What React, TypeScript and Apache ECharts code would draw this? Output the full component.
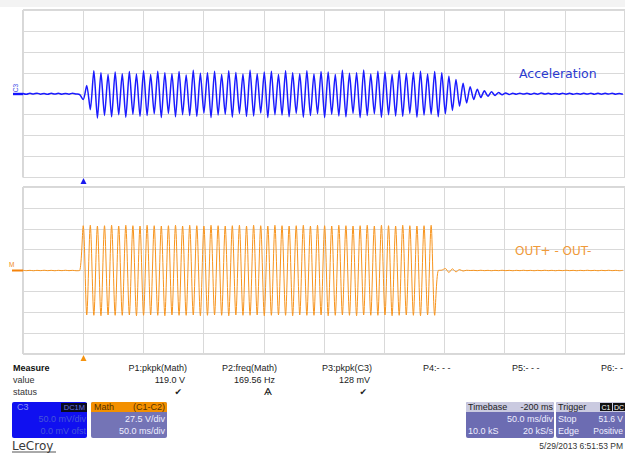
import React, { useEffect, useRef } from "react";
import * as echarts from "echarts";

// ---- data ----
// one sample every half period of the 169.56 Hz drive signal
const DRIVE_FREQ_HZ = 169.56;
const HALF_PERIOD_MS = 1000 / DRIVE_FREQ_HZ / 2;

// time axis (ms) : 10 divisions of 50 ms, trigger at 0
const TIME_MIN = -50;
const TIME_MAX = 450;
const TIME_DIV = 50;

// C3 acceleration channel (mV), 50 mV/div
const ACCEL_DIV = 50;
const accelPre = [0.8, -1.2, 1.0, -0.6, 1.4, -1.0, 0.6, -1.4, 1.2, -0.8, 1.0, -1.2, 0.8, -1.0, 1.4, -0.6, -2];
const accelBurst = [
  -14, 20, -38, 55, -58, 50, -52, 46, -55, 52, -50, 48, -56, 53, -49, 47, -54, 55, -52, 46,
  -48, 54, -57, 50, -47, 48, -55, 53, -50, 45, -52, 56, -54, 49, -46, 50, -57, 54, -51, 46,
  -49, 55, -56, 51, -47, 47, -54, 56, -53, 48, -46, 52, -57, 54, -50, 46, -51, 55, -55, 50,
  -47, 48, -56, 55, -52, 47, -48, 53, -57, 52, -49, 46, -53, 56, -55, 49, -47, 50, -57, 57,
  -52, 47, -48, 54, -56, 52, -50, 46, -53, 55, -54, 49, -47, 51, -56, 54, -51, 47, -49, 53,
  -55, 50,
];
const accelDecay = [-48, 42, -40, 34, -30, 25, -22, 17, -14, 11, -9, 7, -6, 5, -4, 3, -2.5, 2];
const accelPost = [
  -1.5, 1.2, -1.0, 1.4, -0.8, 1.0, -1.3, 0.9, -1.1, 1.5, -0.7, 1.1, -1.2, 0.8, -1.0, 1.3, -0.9,
  1.2, -1.4, 0.7, -1.0, 1.1, -0.8, 1.4, -1.2, 0.9, -1.1, 1.0, -0.7, 1.3, -1.0, 0.8, -1.2,
];

// Math channel C1-C2 (V), 27.5 V/div
const MATH_DIV = 27.5;
const mathPre = [0.3, -0.2, 0.2, -0.3, 0.2, -0.2, 0.3, -0.2, 0.2, -0.3, 0.2, -0.2, 0.3, -0.2, 0.2, -0.3, 0];
const mathBurst = [
  59, -58.5, 59.5, -59, 58.5, -59.5, 59, -58.5, 59.5, -59, 58.5, -59, 59.5, -58.5, 59, -59.5, 58.5, -59, 59.5, -58.5,
  59, -59, 58.5, -59.5, 59, -58.5, 59.5, -59, 58.5, -59, 59.5, -58.5, 59, -59.5, 58.5, -59, 59.5, -58.5, 59, -59,
  58.5, -59.5, 59, -58.5, 59.5, -59, 58.5, -59, 59.5, -58.5, 59, -59.5, 58.5, -59, 59.5, -58.5, 59, -59, 58.5, -59.5,
  59, -58.5, 59.5, -59, 58.5, -59, 59.5, -58.5, 59, -59.5, 58.5, -59, 59.5, -58.5, 59, -59, 58.5, -59.5, 59, -58.5,
  59.5, -59, 58.5, -59, 59.5, -58.5, 59, -59.5, 58.5, -59, 59.5, -58.5, 59, -59, 58.5, -59.5, 59, -58.5, 59.5, -59,
];
const mathPost = [
  0, 0.5, 2.6, -2.6, 2.2, -1.8, 1.2, -0.7, 0.3, 0, 0.2, -0.2, 0.3, -0.2, 0.2, -0.3, 0.2, -0.2,
  0.3, -0.2, 0.2, -0.3, 0.2, -0.2, 0.3, -0.2, 0.2, -0.3, 0.2, -0.2, 0.3, -0.2, 0.2, -0.3, 0.2,
  -0.2, 0.3, -0.2, 0.2, -0.3, 0.2, -0.2, 0.3, -0.2, 0.2, -0.3, 0.2, -0.2, 0.3, -0.2, 0.2, -0.3, 0.2,
];

// measurement panel
const measureNames = ["P1:pkpk(Math)", "P2:freq(Math)", "P3:pkpk(C3)", "P4:- - -", "P5:- - -", "P6:- -"];
const measureValues = ["119.0 V", "169.56 Hz", "128 mV", "", "", ""];
const measureStatus = ["✔", "Ѧ", "✔", "", "", ""];

const toSeries = (pre: number[], rest: number[][]) => {
  const all = ([] as number[]).concat(pre, ...rest);
  return all.map((v, i) => [(i - pre.length) * HALF_PERIOD_MS, v]);
};

const FONT = "'Liberation Sans', Arial, sans-serif";

function txt(text: string, x: number, y: number, o: any = {}) {
  return {
    type: "text",
    x,
    y,
    silent: true,
    z: 100,
    style: {
      text,
      fill: o.fill || "#222",
      fontSize: o.size || 9,
      fontFamily: o.family || FONT,
      fontWeight: o.weight || "normal",
      textAlign: o.align || "left",
      textVerticalAlign: "middle",
    },
    rotation: o.rotation || 0,
  };
}

function rect(x: number, y: number, w: number, h: number, fill: string, r: number | number[] = 0) {
  return { type: "rect", silent: true, z: 90, shape: { x, y, width: w, height: h, r }, style: { fill } };
}

export default function App() {
  const ref = useRef<HTMLDivElement>(null);
  useEffect(() => {
    if (!ref.current) return;
    const chart = echarts.init(ref.current, undefined, { renderer: "svg" });

    const accelData = toSeries(accelPre, [accelBurst, accelDecay, accelPost]);
    const mathData = toSeries(mathPre, [mathBurst, mathPost]);

    const splitLine = { show: true, lineStyle: { color: "#d9d9d9", width: 1 } };
    const xAx = (gridIndex: number) => ({
      type: "value",
      gridIndex,
      min: TIME_MIN,
      max: TIME_MAX,
      interval: TIME_DIV,
      axisLabel: { show: false },
      axisTick: { show: false },
      axisLine: { show: false },
      splitLine,
    });
    const yAx = (gridIndex: number, div: number) => ({
      type: "value",
      gridIndex,
      min: -4 * div,
      max: 4 * div,
      interval: div,
      axisLabel: { show: false },
      axisTick: { show: false },
      axisLine: { show: false },
      splitLine,
    });

    const graphics: any[] = [];
    graphics.push({ type: "rect", silent: true, z: -1, shape: { x: 0, y: 0, width: 625, height: 7 }, style: { fill: "#f3f3f3" } });
    // channel markers on the left
    graphics.push({ type: "line", silent: true, shape: { x1: 13, y1: 94, x2: 24, y2: 94 }, style: { stroke: "#1414ff", lineWidth: 2.4 } });
    graphics.push(txt("C3", 15, 88, { fill: "#3a46e6", size: 6.5, rotation: Math.PI / 2, align: "center" }));
    graphics.push({ type: "line", silent: true, shape: { x1: 12, y1: 270.5, x2: 24, y2: 270.5 }, style: { stroke: "#f5830a", lineWidth: 2 } });
    graphics.push(txt("M", 9, 264, { fill: "#f08a20", size: 6.5 }));
    // trigger markers
    graphics.push({ type: "polygon", silent: true, shape: { points: [[83.5, 178], [80.5, 184], [86.5, 184]] }, style: { fill: "#1a1aee" } });
    graphics.push({ type: "polygon", silent: true, shape: { points: [[83.5, 355], [80.5, 361], [86.5, 361]] }, style: { fill: "#f5930f" } });
    // trace labels
    graphics.push(txt("Acceleration", 519, 73, { fill: "#2a3ad0", size: 12.5, family: "'DejaVu Sans', Verdana, sans-serif" }));
    graphics.push(txt("OUT+ - OUT-", 515, 251, { fill: "#f09a3a", size: 12, family: "'DejaVu Sans', Verdana, sans-serif" }));

    // measure table
    graphics.push(txt("Measure", 13, 368, { fill: "#111", weight: "bold" }));
    graphics.push(txt("value", 13, 380, { fill: "#333" }));
    graphics.push(txt("status", 13, 392, { fill: "#333" }));
    const colRight = [187, 277, 372, 450, 538, 628];
    measureNames.forEach((n, i) => {
      const xr = colRight[i];
      if (i < 3) {
        graphics.push(txt(n, xr, 368, { align: "right" }));
      } else {
        graphics.push(txt(n, [423, 512, 601][i - 3], 368, { align: "left" }));
      }
      if (measureValues[i]) graphics.push(txt(measureValues[i], xr - 2, 380, { align: "right" }));
      if (measureStatus[i]) graphics.push(txt(measureStatus[i], xr - 5, 392, { align: "right", size: 9, fill: "#222", family: "'DejaVu Sans', sans-serif" }));
    });

    // C3 box
    graphics.push(rect(12, 402, 75, 36, "#1010f0", 2));
    graphics.push(txt("C3", 17, 407, { fill: "#8a93f0" }));
    graphics.push(rect(61, 403, 26, 9, "#0a0a20"));
    graphics.push(txt("DC1M", 85, 407.5, { fill: "#6a74e0", align: "right", size: 7.5 }));
    graphics.push(txt("50.0 mV/div", 86, 419, { fill: "#4656d8", align: "right" }));
    graphics.push(txt("0.0 mV ofst", 86, 431, { fill: "#4656d8", align: "right" }));
    // Math box
    graphics.push(rect(91, 402, 76, 36, "#7474b6", 2));
    graphics.push(rect(91, 402, 76, 10, "#f39000", [2, 2, 0, 0]));
    graphics.push(txt("Math", 94, 407, { fill: "#553000" }));
    graphics.push(txt("(C1-C2)", 165, 407, { fill: "#553000", align: "right" }));
    graphics.push(txt("27.5 V/div", 165, 419, { fill: "#eeeeff", align: "right" }));
    graphics.push(txt("50.0 ms/div", 165, 431, { fill: "#eeeeff", align: "right" }));
    // LeCroy
    graphics.push(txt("LeCroy", 12, 446, { fill: "#3a3a3a", size: 12, family: "'DejaVu Sans', sans-serif" }));
    graphics.push({ type: "line", silent: true, shape: { x1: 12, y1: 452, x2: 56, y2: 452 }, style: { stroke: "#555", lineWidth: 1 } });

    // Timebase box
    graphics.push(rect(466, 402, 88, 36, "#6c6cb2", 2));
    graphics.push(rect(466, 402, 88, 10, "#cacae0", [2, 2, 0, 0]));
    graphics.push(txt("Timebase", 468, 407, { fill: "#222" }));
    graphics.push(txt("-200 ms", 553, 407, { fill: "#222", align: "right" }));
    graphics.push(txt("50.0 ms/div", 553, 419, { fill: "#eeeeff", align: "right" }));
    graphics.push(txt("10.0 kS", 468, 431, { fill: "#eeeeff" }));
    graphics.push(txt("20 kS/s", 553, 431, { fill: "#eeeeff", align: "right" }));
    // Trigger box
    graphics.push(rect(556, 402, 75, 36, "#6c6cb2", 2));
    graphics.push(rect(556, 402, 75, 10, "#cacae0", [2, 2, 0, 0]));
    graphics.push(txt("Trigger", 558, 407, { fill: "#222" }));
    graphics.push(rect(600, 403, 12, 8, "#111"));
    graphics.push(rect(613, 403, 12, 8, "#111"));
    graphics.push(txt("C1", 606, 407.5, { fill: "#fff", align: "center", size: 7 }));
    graphics.push(txt("DC", 619, 407.5, { fill: "#fff", align: "center", size: 7 }));
    graphics.push(txt("Stop", 558, 419, { fill: "#eeeeff" }));
    graphics.push(txt("51.6 V", 623, 419, { fill: "#eeeeff", align: "right", size: 8.5 }));
    graphics.push(txt("Edge", 558, 431, { fill: "#eeeeff" }));
    graphics.push(txt("Positive", 623, 431, { fill: "#eeeeff", align: "right", size: 8.5 }));
    // date
    graphics.push(txt("5/29/2013 6:51:53 PM", 623, 446, { fill: "#333", align: "right", size: 8.5 }));

    chart.setOption({
      animation: false,
      backgroundColor: "#ffffff",
      grid: [
        { left: 23, top: 10, width: 606, height: 167.5, show: true, borderColor: "#b0b0b0", borderWidth: 1, backgroundColor: "#fff" },
        { left: 23, top: 187, width: 606, height: 167, show: true, borderColor: "#b0b0b0", borderWidth: 1, backgroundColor: "#fff" },
      ],
      xAxis: [xAx(0), xAx(1)],
      yAxis: [yAx(0, ACCEL_DIV), yAx(1, MATH_DIV)],
      series: [
        {
          type: "line",
          name: "Acceleration",
          xAxisIndex: 0,
          yAxisIndex: 0,
          data: accelData,
          showSymbol: false,
          smooth: 0.25,
          lineStyle: { color: "#1a1aff", width: 1.5 },
          z: 5,
        },
        {
          type: "line",
          name: "OUT+ - OUT-",
          xAxisIndex: 1,
          yAxisIndex: 1,
          data: mathData,
          showSymbol: false,
          smooth: 0.3,
          lineStyle: { color: "#f7941d", width: 1 },
          z: 5,
        },
      ],
      graphic: graphics,
    });
    return () => chart.dispose();
  }, []);
  return <div ref={ref} style={{ position: "fixed", left: 0, top: 0, width: 625, height: 453, background: "#fff" }} />;
}
